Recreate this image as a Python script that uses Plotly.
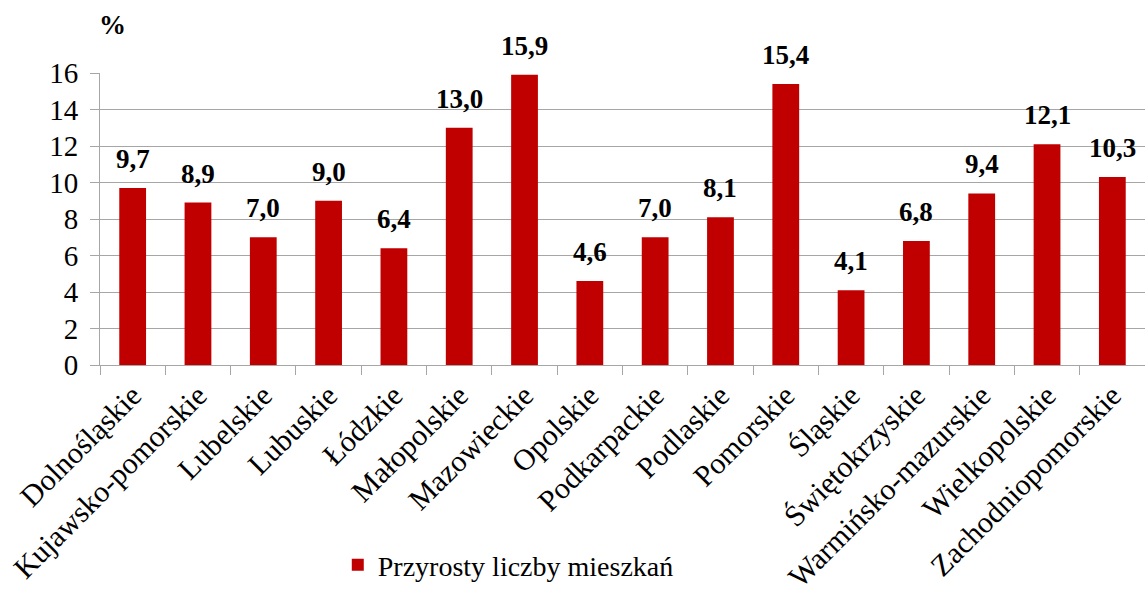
import plotly.graph_objects as go

regions = [
    "Dolnośląskie", "Kujawsko-pomorskie", "Lubelskie", "Lubuskie", "Łódzkie",
    "Małopolskie", "Mazowieckie", "Opolskie", "Podkarpackie", "Podlaskie",
    "Pomorskie", "Śląskie", "Świętokrzyskie", "Warmińsko-mazurskie",
    "Wielkopolskie", "Zachodniopomorskie",
]
growth = [9.7, 8.9, 7.0, 9.0, 6.4, 13.0, 15.9, 4.6, 7.0, 8.1, 15.4, 4.1, 6.8, 9.4, 12.1, 10.3]
y_ticks = [0, 2, 4, 6, 8, 10, 12, 14, 16]
series_name = "Przyrosty liczby mieszkań"

FONT = "Liberation Serif, Times New Roman, serif"
BAR_COLOR = "#C00000"
GRID = "#A6A6A6"

fig = go.Figure()
fig.add_trace(go.Bar(
    x=regions, y=growth, name=series_name,
    marker=dict(color=BAR_COLOR, line=dict(width=0)),
    showlegend=True,
))

# value labels above each bar, decimal comma
for r, v in zip(regions, growth):
    fig.add_annotation(
        x=r, y=v, text=f"{v:.1f}".replace(".", ","),
        showarrow=False, yanchor="bottom", yshift=12,
        font=dict(family=FONT, size=27, color="black", weight="bold"),
    )

fig.add_annotation(
    xref="paper", yref="paper", x=-0.003, y=1.165, xanchor="left", yanchor="middle",
    text="%", showarrow=False,
    font=dict(family=FONT, size=27, color="black", weight="bold"),
)

fig.update_layout(
    width=1145, height=590,
    margin=dict(l=100, r=0, t=73, b=225, autoexpand=False),
    plot_bgcolor="white", paper_bgcolor="white",
    bargap=0.59,
    font=dict(family=FONT, color="black"),
    legend=dict(
        orientation="h", xref="container", yref="container",
        x=0.295, y=0.0, xanchor="left", yanchor="bottom",
        font=dict(family=FONT, size=28, color="black"),
        bgcolor="rgba(0,0,0,0)", borderwidth=0,
    ),
    xaxis=dict(
        type="category", tickangle=-45, automargin=False,
        tickfont=dict(family=FONT, size=30, color="black"),
        showline=True, linecolor=GRID, linewidth=1,
        ticks="outside", ticklen=9, tickcolor=GRID,
        tickson="boundaries", showgrid=False,
    ),
    yaxis=dict(
        range=[0, 16], tickvals=y_ticks, automargin=False,
        tickfont=dict(family=FONT, size=29, color="black"),
        ticklabelstandoff=6,
        showgrid=True, gridcolor=GRID, gridwidth=1,
        showline=True, linecolor=GRID, linewidth=1,
        ticks="outside", ticklen=9, tickcolor=GRID,
        zeroline=False,
    ),
)

fig.write_html("out.html")
